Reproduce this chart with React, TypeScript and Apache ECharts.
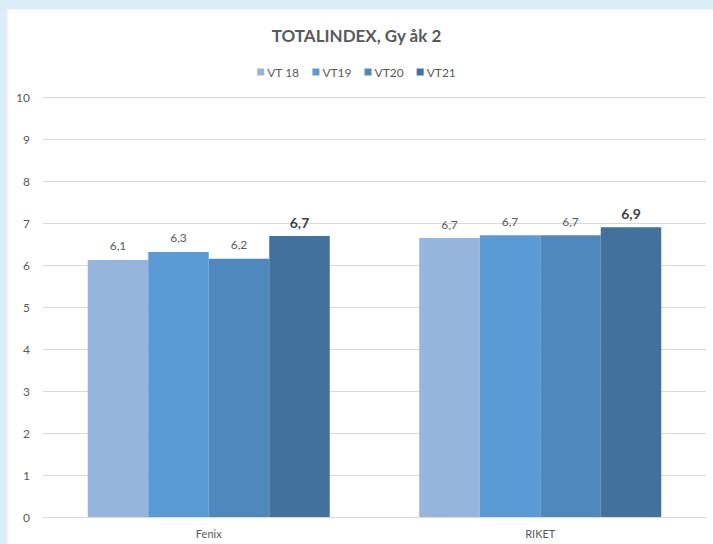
import React, { useEffect, useRef } from "react";
import * as echarts from "echarts";

const categories = ["Fenix", "RIKET"];
const seriesNames = ["VT 18", "VT19", "VT20", "VT21"];
const vt18 = [6.12, 6.64];
const vt19 = [6.31, 6.71];
const vt20 = [6.15, 6.71];
const vt21 = [6.69, 6.9];
const vt18Labels = ["6,1", "6,7"];
const vt19Labels = ["6,3", "6,7"];
const vt20Labels = ["6,2", "6,7"];
const vt21Labels = ["6,7", "6,9"];
const yTicks = [0, 1, 2, 3, 4, 5, 6, 7, 8, 9, 10];

const colors = ["#95b5dd", "#5b9bd5", "#4e88bd", "#41719c"];
const FONT = "Lato, 'Open Sans', sans-serif";

export default function App() {
  const ref = useRef<HTMLDivElement>(null);
  useEffect(() => {
    document.body.style.margin = "0";
    const chart = echarts.init(ref.current!, null, { renderer: "svg" });
    const all = [vt18, vt19, vt20, vt21];
    const labels = [vt18Labels, vt19Labels, vt20Labels, vt21Labels];
    chart.setOption({
      animation: false,
      backgroundColor: "#dbeef8",
      textStyle: { fontFamily: FONT },
      graphic: [
        {
          type: "rect",
          z: -10,
          shape: { x: 7, y: 9, width: 720, height: 560 },
          style: { fill: "#ffffff", stroke: "#e4edf3", lineWidth: 1 },
          silent: true,
        },
      ],
      title: {
        text: "TOTALINDEX, Gy åk 2",
        left: "center",
        top: 22,
        textStyle: { fontFamily: FONT, fontSize: 17, fontWeight: "bold", color: "#595959" },
      },
      legend: {
        top: 61,
        left: "center",
        itemWidth: 7,
        itemHeight: 7,
        itemGap: 13,
        icon: "rect",
        textStyle: { fontFamily: FONT, fontSize: 12, color: "#595959", padding: [0, 0, 0, -2] },
        data: seriesNames,
      },
      grid: { left: 43, right: 7, top: 97, bottom: 27, containLabel: false },
      xAxis: {
        type: "category",
        data: categories,
        axisLine: { lineStyle: { color: "#d9d9d9" } },
        axisTick: { show: false },
        axisLabel: { color: "#595959", fontSize: 11, margin: 11, fontFamily: FONT },
      },
      yAxis: {
        type: "value",
        min: yTicks[0],
        max: yTicks[yTicks.length - 1],
        interval: 1,
        axisLine: { show: false },
        axisTick: { show: false },
        splitLine: { lineStyle: { color: "#d9d9d9" } },
        axisLabel: { color: "#595959", fontSize: 12, margin: 13, fontFamily: FONT },
      },
      series: seriesNames.map((name, i) => ({
        name,
        type: "bar",
        data: all[i],
        barGap: "0%",
        barCategoryGap: "27%",
        itemStyle: { color: colors[i] },
        label: {
          show: true,
          position: "top",
          distance: i === 3 ? 7 : 8,
          formatter: (p: any) => labels[i][p.dataIndex],
          fontFamily: FONT,
          fontSize: i === 3 ? 14 : 12,
          fontWeight: i === 3 ? "bold" : "normal",
          color: i === 3 ? "#404040" : "#595959",
        },
      })),
    });
    return () => chart.dispose();
  }, []);
  return <div ref={ref} style={{ position: "fixed", left: 0, top: 0, width: 713, height: 544 }} />;
}
